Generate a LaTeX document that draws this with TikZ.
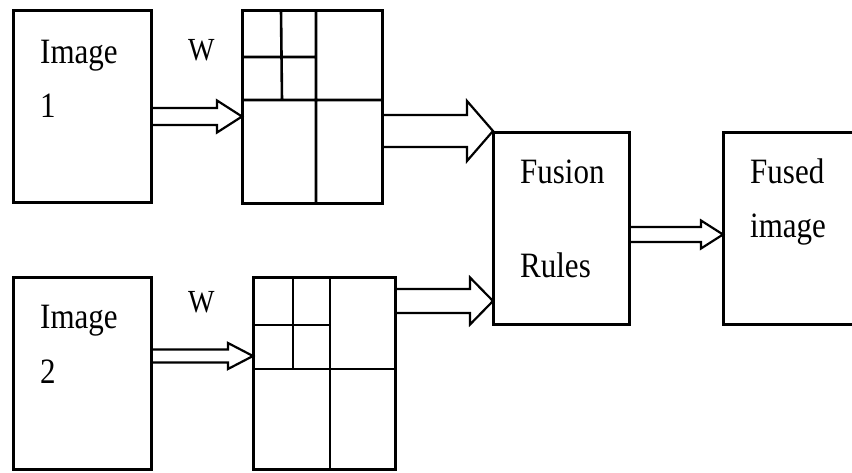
\documentclass[tikz,border=0pt]{standalone}
\usepackage{fontspec}
\setmainfont{Liberation Serif}
\usetikzlibrary{calc}
\tikzset{
	box/.style={draw, line width=3pt, inner sep=0pt},
	lbl/.style={anchor=base west, inner sep=0pt, font=\fontsize{31}{36}\selectfont},
	wlbl/.style={lbl, font=\fontsize{28}{32}\selectfont},
	fat/.style={line width=2.2pt, line join=miter},
	grid/.style={line width=2.6pt}
}
\newcommand\tall[1]{\scalebox{1}[1.15]{#1}}
% hollow block arrow: start, tip, shaft half width, head half width, head length
\newcommand\fatarrow[5]{%
	\draw[fat] ($(#1)+(0,-#3)$) -- ($(#2)+(-#5,-#3)$) -- ($(#2)+(-#5,-#4)$) -- (#2)
		-- ($(#2)+(-#5,#4)$) -- ($(#2)+(-#5,#3)$) -- ($(#1)+(0,#3)$);}
\begin{document}
\begin{tikzpicture}[x=1pt,y=-1pt]
	\useasboundingbox (0,0) rectangle (852,472);
	% boxes
	\node[box, minimum width=138, minimum height=192] (img1) at (82,106) {};
	\node[box, minimum width=138, minimum height=192] (img2) at (82,373) {};
	\node[box, minimum width=140, minimum height=193] (wt1) at (312,106.5) {};
	\node[box, minimum width=142, minimum height=192] (wt2) at (324,373) {};
	\node[box, minimum width=136, minimum height=192] (fus) at (561,228.5) {};
	\node[box, minimum width=140, minimum height=192] (out) at (793,228.5) {};
	% wavelet subbands
	\draw[grid] (316,10)--(316,203) (242,100)--(382,100) (281,10)--(282,100) (242,57)--(316,57);
	\draw[grid] (330,277)--(330,469) (253,369)--(395,369) (293,277)--(293,369) (253,325)--(330,325);
	% labels
	\node[lbl] (i1a) at (40,63) {\tall{Image}};
	\node[lbl] (i1b) at (40,117) {\tall{1}};
	\node[wlbl] (w1) at (188,60) {\tall{W}};
	\node[lbl] (i2a) at (40,328) {\tall{Image}};
	\node[lbl] (i2b) at (40,383) {\tall{2}};
	\node[wlbl] (w2) at (188,312) {\tall{W}};
	\node[lbl] (fa) at (520,183) {\tall{Fusion}};
	\node[lbl] (fb) at (520,277) {\tall{Rules}};
	\node[lbl] (oa) at (750,183) {\tall{Fused}};
	\node[lbl] (ob) at (750,237) {\tall{image}};
	% arrows
	\coordinate (t1) at (242,116.5);
	\coordinate (t2) at (253,356);
	\coordinate (t3) at (493,131);
	\coordinate (t4) at (493,301);
	\coordinate (t5) at (723,234.5);
	\fatarrow{img1.east |- t1}{t1}{8.5}{16}{25}
	\fatarrow{img2.east |- t2}{t2}{6.5}{13}{25}
	\fatarrow{wt1.east |- t3}{t3}{16}{30}{26}
	\fatarrow{wt2.east |- t4}{t4}{12}{23.5}{23}
	\fatarrow{fus.east |- t5}{t5}{7.5}{14}{22}
\end{tikzpicture}
\end{document}
